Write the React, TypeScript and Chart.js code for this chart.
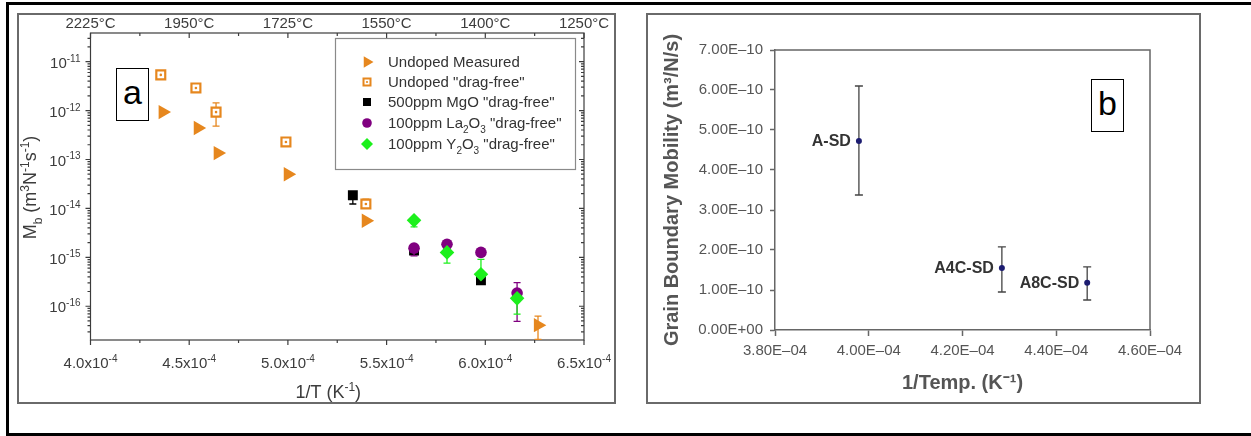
import { useEffect, useRef } from 'react';
import { Chart, registerables } from 'chart.js';
Chart.register(...registerables);

const FAMILY = '"Liberation Sans", Arial, Helvetica, sans-serif';

// ---------------- Panel a data ----------------
const seriesNamesA = ['Undoped Measured', 'Undoped "drag-free"', '500ppm MgO "drag-free"', '100ppm La2O3 "drag-free"', '100ppm Y2O3 "drag-free"'];
const colorOrange = '#E6871E';
const colorPurple = '#800080';
const colorGreen = '#1CF01C';
const colorBlack = '#000000';

const undopedMeasuredX = [4.366e-4, 4.544e-4, 4.645e-4, 5.0e-4, 5.395e-4, 6.267e-4];
const undopedMeasuredY = [9.3e-13, 4.4e-13, 1.35e-13, 5.0e-14, 5.6e-15, 4.1e-17];
const undopedMeasuredLo = [null, null, null, null, null, 2.1e-17];
const undopedMeasuredHi = [null, null, null, null, null, 6.3e-17];

const undopedDragFreeX = [4.356e-4, 4.534e-4, 4.636e-4, 4.99e-4, 5.395e-4];
const undopedDragFreeY = [5.36e-12, 2.9e-12, 9.3e-13, 2.28e-13, 1.23e-14];
const undopedDragFreeLo = [null, null, 4.8e-13, null, 1.0e-14];
const undopedDragFreeHi = [null, null, 1.43e-12, null, 1.55e-14];

const mgoX = [5.329e-4, 5.639e-4, 5.978e-4];
const mgoY = [1.86e-14, 1.38e-15, 3.4e-16];
const mgoLo = [1.23e-14, null, null];
const mgoHi = [null, null, null];

const laX = [5.639e-4, 5.806e-4, 5.978e-4, 6.161e-4];
const laY = [1.54e-15, 1.85e-15, 1.26e-15, 1.86e-16];
const laLo = [1.07e-15, null, null, 4.9e-17];
const laHi = [null, null, null, 3.05e-16];

const yoX = [5.639e-4, 5.806e-4, 5.978e-4, 6.161e-4];
const yoY = [5.7e-15, 1.26e-15, 4.5e-16, 1.45e-16];
const yoLo = [4.2e-15, 7.6e-16, null, 6.9e-17];
const yoHi = [null, null, 9.1e-16, null];

const xMinA = 4.0e-4;
const xMaxA = 6.5e-4;
const yMinA = 2.04e-17;
const yMaxA = 3.85e-11;
const xMajorTicksA = [4.0e-4, 4.5e-4, 5.0e-4, 5.5e-4, 6.0e-4, 6.5e-4];
const xMinorTicksA = [4.25e-4, 4.75e-4, 5.25e-4, 5.75e-4, 6.25e-4];
const xTickMantissaA = ['4.0', '4.5', '5.0', '5.5', '6.0', '6.5'];
const topTickLabelsA = ['2225°C', '1950°C', '1725°C', '1550°C', '1400°C', '1250°C'];
const yDecadesA = [-11, -12, -13, -14, -15, -16];

// ---------------- Panel b data ----------------
const bX = [3.979e-4, 4.284e-4, 4.466e-4];
const bY = [4.725e-10, 1.55e-10, 1.18e-10];
const bLo = [3.375e-10, 0.95e-10, 0.75e-10];
const bHi = [6.1e-10, 2.08e-10, 1.58e-10];
const bLabels = ['A-SD', 'A4C-SD', 'A8C-SD'];
const bXTicks = [3.8e-4, 4.0e-4, 4.2e-4, 4.4e-4, 4.6e-4];
const bXTickLabels = ['3.80E–04', '4.00E–04', '4.20E–04', '4.40E–04', '4.60E–04'];
const bYTicks = [0, 1e-10, 2e-10, 3e-10, 4e-10, 5e-10, 6e-10, 7e-10];
const bYTickLabels = ['0.00E+00', '1.00E–10', '2.00E–10', '3.00E–10', '4.00E–10', '5.00E–10', '6.00E–10', '7.00E–10'];

type Seg = [string, number]; // 0 normal, 1 sup, 2 sub

function drawRich(ctx: CanvasRenderingContext2D, segs: Seg[], x: number, y: number, align: string, size: number, color: string) {
  const small = Math.round(size * 0.65);
  const fN = `${size}px ${FAMILY}`;
  const fS = `${small}px ${FAMILY}`;
  let w = 0;
  const widths = segs.map(([t, k]) => {
    ctx.font = k ? fS : fN;
    const m = ctx.measureText(t).width;
    w += m;
    return m;
  });
  let cx = align === 'left' ? x : align === 'center' ? x - w / 2 : x - w;
  const base = y + size * 0.35;
  ctx.fillStyle = color;
  ctx.textAlign = 'left';
  ctx.textBaseline = 'alphabetic';
  segs.forEach(([t, k], i) => {
    ctx.font = k ? fS : fN;
    const dy = k === 1 ? -size * 0.42 : k === 2 ? size * 0.3 : 0;
    ctx.fillText(t, cx, base + dy);
    cx += widths[i];
  });
}

function drawMarker(ctx: CanvasRenderingContext2D, kind: string, x: number, y: number, color: string) {
  ctx.save();
  ctx.fillStyle = color;
  ctx.strokeStyle = color;
  ctx.beginPath();
  if (kind === 'tri') {
    const r = 6.5;
    ctx.moveTo(x + r, y);
    ctx.lineTo(x - r / 2, y - r * 0.866);
    ctx.lineTo(x - r / 2, y + r * 0.866);
    ctx.closePath();
    ctx.fill();
  } else if (kind === 'open') {
    ctx.fillStyle = '#fff';
    ctx.rect(x - 3.5, y - 3.5, 7, 7);
    ctx.fill();
    ctx.lineWidth = 2;
    ctx.stroke();
    ctx.beginPath();
    ctx.fillStyle = color;
    ctx.arc(x, y, 1.1, 0, Math.PI * 2);
    ctx.fill();
  } else if (kind === 'sq') {
    ctx.rect(x - 4, y - 4, 8, 8);
    ctx.fill();
  } else if (kind === 'circ') {
    ctx.arc(x, y, 4.8, 0, Math.PI * 2);
    ctx.fill();
  } else if (kind === 'dia') {
    const r = 6;
    ctx.moveTo(x, y - r);
    ctx.lineTo(x + r, y);
    ctx.lineTo(x, y + r);
    ctx.lineTo(x - r, y);
    ctx.closePath();
    ctx.fill();
  }
  ctx.restore();
}

const errorBars = {
  id: 'errorBars',
  beforeDatasetDraw(chart: any, args: any) {
    const ds = chart.data.datasets[args.index];
    if (!ds.errLo && !ds.errHi) return;
    const xs = chart.scales.x;
    const ys = chart.scales.y;
    const ctx = chart.ctx;
    const ca = chart.chartArea;
    ctx.save();
    ctx.beginPath();
    ctx.rect(ca.left, ca.top, ca.right - ca.left, ca.bottom - ca.top + 1);
    ctx.clip();
    ctx.strokeStyle = ds.errColor || ds.borderColor;
    ctx.lineWidth = ds.errWidth || 1.3;
    const cw = ds.capHalf || 3.5;
    ds.data.forEach((p: any, i: number) => {
      const lo = ds.errLo ? ds.errLo[i] : null;
      const hi = ds.errHi ? ds.errHi[i] : null;
      if (lo == null && hi == null) return;
      const x = xs.getPixelForValue(p.x);
      const y = ys.getPixelForValue(p.y);
      const y1 = hi != null ? ys.getPixelForValue(hi) : y;
      const y2 = lo != null ? ys.getPixelForValue(lo) : y;
      ctx.beginPath();
      ctx.moveTo(x, y1);
      ctx.lineTo(x, y2);
      if (hi != null) { ctx.moveTo(x - cw, y1); ctx.lineTo(x + cw, y1); }
      if (lo != null) { ctx.moveTo(x - cw, y2); ctx.lineTo(x + cw, y2); }
      ctx.stroke();
    });
    ctx.restore();
  },
  afterDatasetDraw(chart: any, args: any) {
    const ds = chart.data.datasets[args.index];
    if (!ds.centerDot) return;
    const ctx = chart.ctx;
    ctx.save();
    ctx.fillStyle = ds.borderColor;
    ds.data.forEach((p: any) => {
      const x = chart.scales.x.getPixelForValue(p.x);
      const y = chart.scales.y.getPixelForValue(p.y);
      ctx.beginPath();
      ctx.arc(x, y, 1.3, 0, Math.PI * 2);
      ctx.fill();
    });
    ctx.restore();
  },
};

const AX = '#3c3c3c';

const axesA = {
  id: 'axesA',
  beforeDatasetsDraw(chart: any) {
    const ctx = chart.ctx as CanvasRenderingContext2D;
    const ca = chart.chartArea;
    const xs = chart.scales.x;
    const ys = chart.scales.y;
    ctx.save();
    ctx.strokeStyle = AX;
    ctx.lineWidth = 1.2;
    ctx.strokeRect(ca.left, ca.top, ca.right - ca.left, ca.bottom - ca.top);
    ctx.beginPath();
    const xt = (v: number, len: number) => {
      const x = xs.getPixelForValue(v);
      ctx.moveTo(x, ca.bottom); ctx.lineTo(x, ca.bottom + len);
      ctx.moveTo(x, ca.top); ctx.lineTo(x, ca.top + len);
    };
    xMajorTicksA.forEach((v) => xt(v, 5));
    xMinorTicksA.forEach((v) => xt(v, 3));
    for (let d = -17; d <= -10; d++) {
      for (let k = 1; k <= 9; k++) {
        const v = k * Math.pow(10, d);
        if (v < yMinA || v > yMaxA) continue;
        const y = ys.getPixelForValue(v);
        const len = k === 1 ? 5 : 3;
        ctx.moveTo(ca.left - len, y); ctx.lineTo(ca.left, y);
        ctx.moveTo(ca.right - len, y); ctx.lineTo(ca.right, y);
      }
    }
    ctx.stroke();
    xMajorTicksA.forEach((v, i) => {
      const x = xs.getPixelForValue(v);
      drawRich(ctx, [[xTickMantissaA[i] + 'x10', 0], ['-4', 1]], x, ca.bottom + 23, 'center', 15, AX);
      drawRich(ctx, [[topTickLabelsA[i], 0]], x, ca.top - 10, 'center', 15, AX);
    });
    yDecadesA.forEach((d) => {
      const y = ys.getPixelForValue(Math.pow(10, d));
      drawRich(ctx, [['10', 0], [String(d), 1]], ca.left - 10, y + 1, 'right', 15, AX);
    });
    drawRich(ctx, [['1/T (K', 0], ['-1', 1], [')', 0]], (ca.left + ca.right) / 2 - 9, ca.bottom + 52, 'center', 18, AX);
    ctx.translate(30, (ca.top + ca.bottom) / 2 + 1);
    ctx.rotate(-Math.PI / 2);
    drawRich(ctx, [['M', 0], ['b', 2], [' (m', 0], ['3', 1], ['N', 0], ['-1', 1], ['s', 0], ['-1', 1], [')', 0]], 0, 0, 'center', 18, AX);
    ctx.restore();
  },
  afterDraw(chart: any) {
    const ctx = chart.ctx as CanvasRenderingContext2D;
    ctx.save();
    ctx.fillStyle = '#fff';
    ctx.fillRect(335, 38, 240, 131);
    ctx.strokeStyle = '#8a8a8a';
    ctx.lineWidth = 1.2;
    ctx.strokeRect(335.5, 38.5, 240, 131);
    const rows = [62, 82, 102, 123, 144];
    const kinds = ['tri', 'open', 'sq', 'circ', 'dia'];
    const cols = [colorOrange, colorOrange, colorBlack, colorPurple, colorGreen];
    const texts: Seg[][] = [
      [[seriesNamesA[0], 0]],
      [[seriesNamesA[1], 0]],
      [[seriesNamesA[2], 0]],
      [['100ppm La', 0], ['2', 2], ['O', 0], ['3', 2], [' "drag-free"', 0]],
      [['100ppm Y', 0], ['2', 2], ['O', 0], ['3', 2], [' "drag-free"', 0]],
    ];
    rows.forEach((y, i) => {
      drawMarker(ctx, kinds[i], 367, y, cols[i]);
      drawRich(ctx, texts[i], 388, y, 'left', 15, '#333');
    });
    ctx.restore();
  },
};

function toPts(xs: number[], ys: number[]) {
  return xs.map((x, i) => ({ x, y: ys[i] }));
}

function configA(): any {
  return {
    type: 'scatter',
    data: {
      datasets: [
        { label: seriesNamesA[4], data: toPts(yoX, yoY), errLo: yoLo, errHi: yoHi, pointStyle: 'rectRot', pointRadius: 7.3, backgroundColor: colorGreen, borderColor: colorGreen, borderWidth: 0, order: 1 },
        { label: seriesNamesA[3], data: toPts(laX, laY), errLo: laLo, errHi: laHi, pointStyle: 'circle', pointRadius: 5.8, backgroundColor: colorPurple, borderColor: colorPurple, borderWidth: 0, order: 2 },
        { label: seriesNamesA[2], data: toPts(mgoX, mgoY), errLo: mgoLo, errHi: mgoHi, pointStyle: 'rect', pointRadius: 7, backgroundColor: colorBlack, borderColor: colorBlack, borderWidth: 0, order: 3 },
        { label: seriesNamesA[0], data: toPts(undopedMeasuredX, undopedMeasuredY), errLo: undopedMeasuredLo, errHi: undopedMeasuredHi, pointStyle: 'triangle', rotation: 90, pointRadius: 8.3, backgroundColor: colorOrange, borderColor: colorOrange, borderWidth: 0, order: 4 },
        { label: seriesNamesA[1], data: toPts(undopedDragFreeX, undopedDragFreeY), errLo: undopedDragFreeLo, errHi: undopedDragFreeHi, centerDot: true, pointStyle: 'rect', pointRadius: 6.3, backgroundColor: '#ffffff', borderColor: colorOrange, borderWidth: 2.2, order: 5 },
      ],
    },
    options: {
      animation: false,
      responsive: false,
      devicePixelRatio: 1,
      layout: { padding: { left: 90.5, top: 33, right: 46, bottom: 96 } },
      scales: {
        x: { type: 'linear', min: xMinA, max: xMaxA, display: false },
        y: { type: 'logarithmic', min: yMinA, max: yMaxA, display: false },
      },
      plugins: { legend: { display: false }, tooltip: { enabled: false } },
      events: [],
    },
    plugins: [axesA, errorBars],
  };
}

const frameB = {
  id: 'frameB',
  afterDraw(chart: any) {
    const ctx = chart.ctx as CanvasRenderingContext2D;
    const ca = chart.chartArea;
    ctx.save();
    ctx.strokeStyle = '#666';
    ctx.lineWidth = 1.5;
    ctx.beginPath();
    ctx.moveTo(ca.left, ca.top);
    ctx.lineTo(ca.right, ca.top);
    ctx.lineTo(ca.right, ca.bottom);
    ctx.stroke();
    ctx.restore();
  },
  afterDatasetsDraw(chart: any) {
    const ctx = chart.ctx as CanvasRenderingContext2D;
    const xs = chart.scales.x;
    const ys = chart.scales.y;
    ctx.save();
    ctx.font = `bold 16px ${FAMILY}`;
    ctx.fillStyle = '#333';
    ctx.textAlign = 'right';
    ctx.textBaseline = 'middle';
    bLabels.forEach((t, i) => {
      ctx.fillText(t, xs.getPixelForValue(bX[i]) - 8, ys.getPixelForValue(bY[i]) + 1);
    });
    ctx.restore();
  },
};

function configB(): any {
  const tickFont = { size: 15, family: FAMILY };
  return {
    type: 'scatter',
    data: {
      datasets: [
        { label: 'Grain boundary mobility', data: toPts(bX, bY), errLo: bLo, errHi: bHi, errColor: '#444', errWidth: 1.3, capHalf: 4, pointStyle: 'circle', pointRadius: 3, backgroundColor: '#1c1c70', borderColor: '#1c1c70', borderWidth: 0 },
      ],
    },
    options: {
      animation: false,
      responsive: false,
      devicePixelRatio: 1,
      layout: { padding: { left: 0, top: 50, right: 101, bottom: 0 } },
      scales: {
        x: {
          type: 'linear', position: 'bottom', min: 3.8e-4, max: 4.6e-4,
          afterBuildTicks: (s: any) => { s.ticks = bXTicks.map((v) => ({ value: v })); },
          afterFit: (s: any) => { s.height = 106; },
          ticks: { callback: (_v: any, i: number) => bXTickLabels[i], color: '#555', font: tickFont, padding: 6, maxRotation: 0, autoSkip: false },
          grid: { drawOnChartArea: false, tickLength: 6, color: '#666', tickWidth: 1.5 },
          border: { color: '#666', width: 1.5 },
          title: { display: true, text: '1/Temp. (K⁻¹)', color: '#555', font: { size: 20, weight: 'bold', family: FAMILY }, padding: { top: 0, bottom: 41 } },
        },
        y: {
          type: 'linear', position: 'left', min: 0, max: 7e-10,
          afterBuildTicks: (s: any) => { s.ticks = bYTicks.map((v) => ({ value: v })); },
          afterFit: (s: any) => { s.width = 145; },
          ticks: { callback: (_v: any, i: number) => bYTickLabels[i], color: '#555', font: tickFont, padding: 7, autoSkip: false },
          grid: { drawOnChartArea: false, tickLength: 5, color: '#666', tickWidth: 1.5 },
          border: { color: '#666', width: 1.5 },
          title: { display: true, text: 'Grain Boundary Mobility (m³/N/s)', color: '#555', font: { size: 20, weight: 'bold', family: FAMILY }, padding: { top: 30, bottom: 0 } },
        },
      },
      plugins: { legend: { display: false }, tooltip: { enabled: false } },
      events: [],
    },
    plugins: [errorBars, frameB],
  };
}

export default function App() {
  const refA = useRef<HTMLCanvasElement>(null);
  const refB = useRef<HTMLCanvasElement>(null);
  useEffect(() => {
    const a = new Chart(refA.current as HTMLCanvasElement, configA());
    const b = new Chart(refB.current as HTMLCanvasElement, configB());
    return () => {
      a.destroy();
      b.destroy();
    };
  }, []);
  const boxLabel = (left: number, top: number, text: string): any => (
    <div style={{ position: 'absolute', left, top, width: 33, height: 53, boxSizing: 'border-box', border: '1.5px solid #000', background: '#fff', font: `34px ${FAMILY}`, lineHeight: '46px', textAlign: 'center', color: '#000' }}>{text}</div>
  );
  return (
    <div style={{ position: 'absolute', left: 0, top: 0, width: 1251, height: 436, overflow: 'hidden', background: '#fff' }}>
      <div style={{ position: 'absolute', left: 6, top: 2, width: 1300, height: 434, boxSizing: 'border-box', borderTop: '3px solid #000', borderLeft: '3px solid #000', borderBottom: '3px solid #000' }} />
      <div style={{ position: 'absolute', left: 17, top: 13, width: 599, height: 391, boxSizing: 'border-box', border: '2px solid #6a6a6a' }} />
      <div style={{ position: 'absolute', left: 646, top: 13, width: 555, height: 391, boxSizing: 'border-box', border: '2px solid #6a6a6a' }} />
      <canvas ref={refA} width={630} height={436} style={{ position: 'absolute', left: 0, top: 0, width: 630, height: 436 }} />
      <canvas ref={refB} width={621} height={436} style={{ position: 'absolute', left: 630, top: 0, width: 621, height: 436 }} />
      {boxLabel(116, 68, 'a')}
      {boxLabel(1091, 79, 'b')}
    </div>
  );
}
